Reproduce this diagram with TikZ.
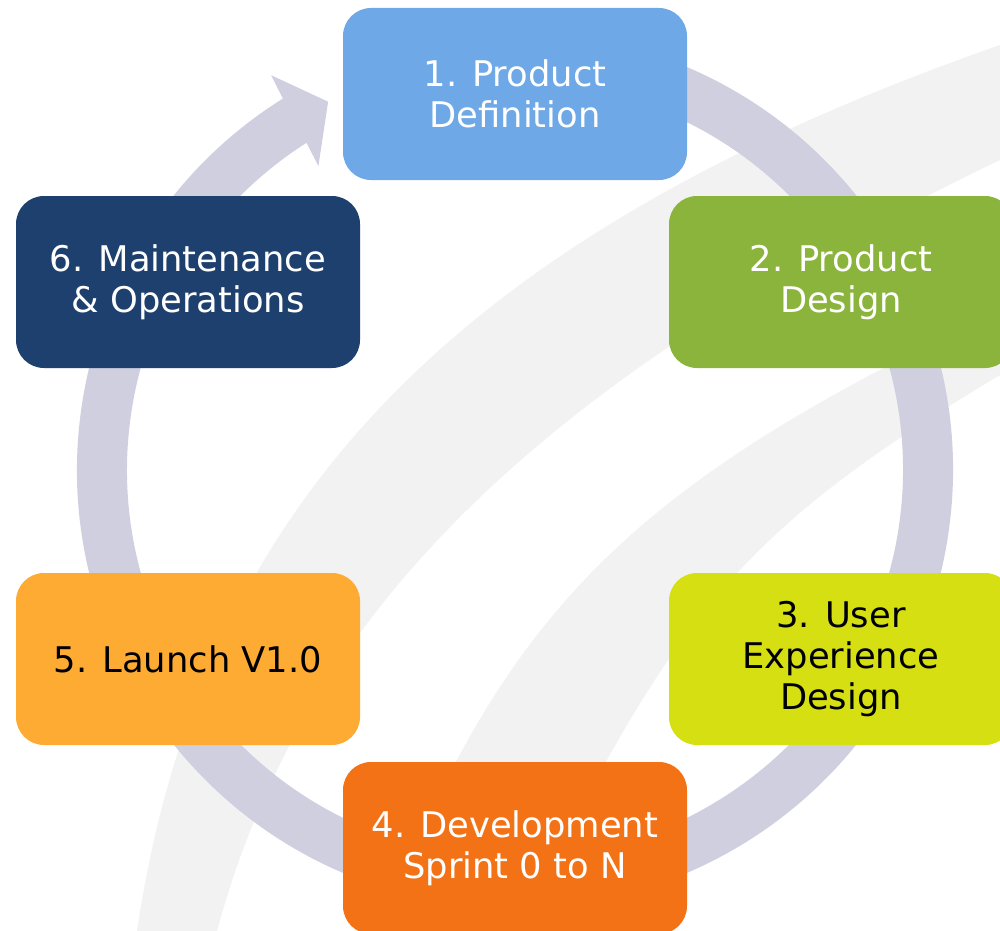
\documentclass[tikz,border=0pt]{standalone}
\usepackage{fontspec}
\setmainfont{DejaVu Sans}

\tikzset{every picture/.style={line width=0.75pt}}
\tikzset{stepbox/.style={draw=none, rounded corners=21pt, minimum width=258pt, minimum height=129pt, inner sep=0pt, align=center, font=\fontsize{26.5}{31}\selectfont}}

\begin{document}
\begin{tikzpicture}[x=0.75pt,y=0.75pt,yscale=-1,xscale=1]
\useasboundingbox (0,0) rectangle (1000,931);
\clip (0,0) rectangle (1000,931);

%Shape: Swoosh outer
\draw [draw opacity=0][fill={rgb, 255:red, 242; green, 242; blue, 242 }  ,fill opacity=1 ] (137,931) .. controls (201,500) and (460,234) .. (1000,45) -- (1000,160) .. controls (538,382) and (303,613) .. (217,931) -- cycle ;
%Shape: Swoosh inner
\draw [draw opacity=0][fill={rgb, 255:red, 242; green, 242; blue, 242 }  ,fill opacity=1 ] (380,931) .. controls (505,610) and (629,486) .. (1000,310) -- (1000,375) .. controls (745,528) and (673,611) .. (520,931) -- cycle ;

%Shape: Circular Arrow
\begin{scope}[shift={(515,470)}]
\draw [draw opacity=0][fill={rgb, 255:red, 207; green, 207; blue, 224 }  ,fill opacity=1 ] (-80:438) arc [start angle=-80, end angle=238, radius=438] -- (238.3:464) -- (243.1:413) -- (237.1:362) -- (237.5:388) arc [start angle=237.5, end angle=-80, radius=388] -- cycle ;
\end{scope}

% Text Node
\node [stepbox, fill={rgb, 255:red, 111; green, 168; blue, 230 }, text=white] (def) at (515,94) {1. Product\\Definition};
% Text Node
\node [stepbox, fill={rgb, 255:red, 139; green, 180; blue, 60 }, text=white] (design) at (841,282) {2. Product\\Design};
% Text Node
\node [stepbox, fill={rgb, 255:red, 213; green, 223; blue, 18 }, text=black] (ux) at (841,659) {3. User\\Experience\\Design};
% Text Node
\node [stepbox, fill={rgb, 255:red, 244; green, 114; blue, 22 }, text=white] (dev) at (515,848) {4. Development\\Sprint 0 to N};
% Text Node
\node [stepbox, fill={rgb, 255:red, 253; green, 171; blue, 51 }, text=black] (launch) at (188,659) {5. Launch V1.0};
% Text Node
\node [stepbox, fill={rgb, 255:red, 29; green, 64; blue, 110 }, text=white] (ops) at (188,282) {6. Maintenance\\\& Operations};

\end{tikzpicture}
\end{document}
